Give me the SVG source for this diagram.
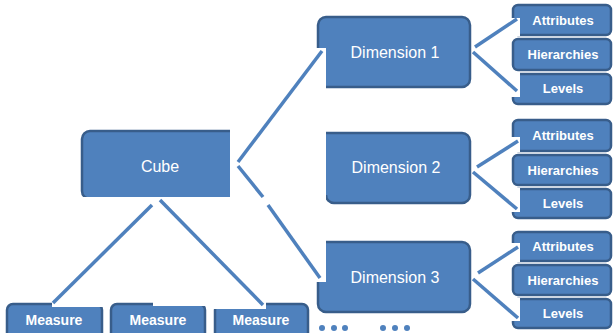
<svg xmlns="http://www.w3.org/2000/svg" width="613" height="333" viewBox="0 0 613 333">
<style>
.box{fill:#4f81bd;stroke:#385d8a;stroke-width:2.5}
.big{font-family:"Liberation Sans",Arial,sans-serif;font-size:16px;fill:#ffffff;text-anchor:middle}
.small{font-family:"Liberation Sans",Arial,sans-serif;font-size:13px;font-weight:bold;fill:#ffffff;text-anchor:middle}
.meas{font-family:"Liberation Sans",Arial,sans-serif;font-size:14px;font-weight:bold;fill:#ffffff;text-anchor:middle}
.ln{stroke:#4f81bd;stroke-width:3.5;fill:none}
.cut{fill:#ffffff}
.dot{fill:#4f81bd}
</style>
<rect width="613" height="333" fill="#ffffff"/>
<g id="cube"><rect class="box" x="82" y="131" width="160" height="68" rx="8"/><text class="big" x="160" y="172">Cube</text></g>
<g id="dim1"><rect class="box" x="318" y="17" width="152" height="70" rx="8"/><text class="big" x="395" y="58">Dimension 1</text></g>
<g id="dim2"><path class="box" d="M326,133 H462 A8,8 0 0 1 470,141 V195 A8,8 0 0 1 462,203 H334 A8,8 0 0 1 326,195"/><text class="big" x="396" y="173">Dimension 2</text></g>
<g id="dim3"><rect class="box" x="318" y="242" width="152" height="70" rx="8"/><text class="big" x="395" y="283">Dimension 3</text></g>
<g id="attr1"><rect class="box" x="513" y="5" width="98" height="30" rx="5"/><text class="small" x="563" y="25">Attributes</text></g>
<g id="hier1"><rect class="box" x="513" y="39" width="98" height="31" rx="5"/><text class="small" x="563" y="59">Hierarchies</text></g>
<g id="lev1"><rect class="box" x="513" y="74" width="98" height="30" rx="5"/><text class="small" x="563" y="93">Levels</text></g>
<g id="attr2"><rect class="box" x="513" y="120" width="98" height="31" rx="5"/><text class="small" x="563" y="140">Attributes</text></g>
<g id="hier2"><rect class="box" x="513" y="155" width="98" height="30" rx="5"/><text class="small" x="563" y="175">Hierarchies</text></g>
<g id="lev2"><rect class="box" x="513" y="189" width="98" height="29" rx="5"/><text class="small" x="563" y="208">Levels</text></g>
<g id="attr3"><rect class="box" x="513" y="232" width="98" height="29" rx="5"/><text class="small" x="563" y="251">Attributes</text></g>
<g id="hier3"><rect class="box" x="513" y="265" width="98" height="30" rx="5"/><text class="small" x="563" y="285">Hierarchies</text></g>
<g id="lev3"><rect class="box" x="513" y="299" width="98" height="29" rx="5"/><text class="small" x="563" y="318">Levels</text></g>
<g id="measure1"><rect class="box" x="7" y="304" width="95" height="42" rx="6"/><text class="meas" x="54" y="325">Measure</text></g>
<g id="measure2"><rect class="box" x="111" y="304" width="94" height="42" rx="6"/><text class="meas" x="158" y="325">Measure</text></g>
<g id="measure3"><rect class="box" x="215" y="304" width="93" height="42" rx="6"/><text class="meas" x="261" y="325">Measure</text></g>
<g id="connectors">
<rect class="cut" x="230" y="48" width="96" height="117"/>
<rect class="cut" x="230" y="160" width="96" height="122"/>
<rect class="cut" x="48" y="197" width="220" height="8"/>
<rect class="cut" x="52" y="296" width="51" height="11"/>
<rect class="cut" x="153" y="296" width="53" height="10"/>
<rect class="cut" x="214" y="296" width="52" height="13"/>
<rect class="cut" x="511" y="18" width="9" height="18"/>
<rect class="cut" x="511" y="72" width="9" height="25"/>
<rect class="cut" x="511" y="137" width="9" height="15"/>
<rect class="cut" x="511" y="188" width="9" height="24"/>
<rect class="cut" x="511" y="243" width="9" height="19"/>
<rect class="cut" x="511" y="298" width="9" height="23"/>
<line class="ln" x1="238" y1="162" x2="322" y2="51"/>
<line class="ln" x1="238" y1="166" x2="263" y2="197"/>
<line class="ln" x1="268" y1="205" x2="320" y2="278"/>
<line class="ln" x1="152" y1="205" x2="53" y2="303"/>
<line class="ln" x1="160" y1="200" x2="263" y2="305"/>
<line class="ln" x1="475" y1="47" x2="517" y2="19"/>
<line class="ln" x1="473" y1="52" x2="517" y2="91"/>
<line class="ln" x1="477" y1="167" x2="518" y2="141"/>
<line class="ln" x1="473" y1="172" x2="517" y2="209"/>
<line class="ln" x1="478" y1="273" x2="518" y2="247"/>
<line class="ln" x1="473" y1="279" x2="518" y2="318"/>
</g>
<g id="dots">
<circle class="dot" cx="322" cy="328" r="3"/><circle class="dot" cx="334" cy="328" r="3"/><circle class="dot" cx="345" cy="328" r="3"/>
<circle class="dot" cx="383" cy="328" r="3"/><circle class="dot" cx="395" cy="328" r="3"/><circle class="dot" cx="407" cy="328" r="3"/>
</g>
</svg>
